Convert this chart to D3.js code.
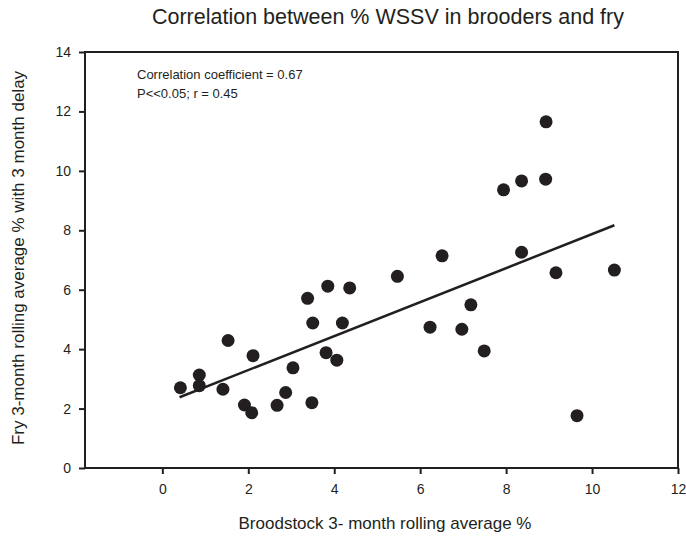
<!DOCTYPE html>
<html>
<head>
<meta charset="utf-8">
<script src="https://cdn.jsdelivr.net/npm/d3@7"></script>
<style>
  body { margin: 0; background: #fff; }
  svg text { font-family: "Liberation Sans", Arial, sans-serif; fill: #231f20; }
</style>
</head>
<body>
<div id="chart"></div>
<script>
// Data
const broodstock = [0.42, 0.86, 0.86, 1.41, 1.53, 1.91, 2.08, 2.11, 2.67, 2.87, 3.04,
    3.38, 3.48, 3.50, 3.85, 3.81, 4.06, 4.19, 4.36, 5.47, 6.51, 8.93, 8.92, 8.36,
    7.94, 8.36, 9.16, 10.52, 7.18, 6.23, 6.97, 7.49, 9.65];
const fry = [2.70, 3.13, 2.77, 2.65, 4.29, 2.12, 1.86, 3.78, 2.11, 2.54, 3.37,
    5.71, 2.20, 4.88, 6.12, 3.88, 3.63, 4.88, 6.06, 6.45, 7.14, 11.65, 9.72, 9.66,
    9.36, 7.26, 6.57, 6.66, 5.49, 4.74, 4.67, 3.94, 1.76];
// regression line endpoints
const fitX = [0.40, 10.52];
const fitY = [2.38, 8.17];
const xTicks = [0, 2, 4, 6, 8, 10, 12];
const yTicks = [0, 2, 4, 6, 8, 10, 12, 14];
const notes = ["Correlation coefficient = 0.67", "P<<0.05; r = 0.45"];

const width = 686, height = 539;
const margin = {left: 85, right: 8, top: 52, bottom: 71};

const svg = d3.select("#chart").append("svg")
    .attr("width", width)
    .attr("height", height);

const x = d3.scaleLinear().domain([-1.8, 12]).range([margin.left, width - margin.right]);
const y = d3.scaleLinear().domain([0, 14]).range([height - margin.bottom, margin.top]);

// frame
svg.append("rect")
    .attr("x", x(-1.8)).attr("y", y(14))
    .attr("width", x(12) - x(-1.8)).attr("height", y(0) - y(14))
    .attr("fill", "none").attr("stroke", "#231f20").attr("stroke-width", 2);

// axes
const xAxis = svg.append("g")
    .attr("transform", `translate(0,${y(0)})`)
    .call(d3.axisBottom(x).tickValues(xTicks).tickSize(6).tickPadding(10));
const yAxis = svg.append("g")
    .attr("transform", `translate(${x(-1.8)},0)`)
    .call(d3.axisLeft(y).tickValues(yTicks).tickSize(6).tickPadding(8));

[xAxis, yAxis].forEach(a => {
    a.select(".domain").remove();
    a.selectAll(".tick line").attr("stroke", "#231f20").attr("stroke-width", 2);
    a.selectAll(".tick text").attr("font-size", 14).attr("fill", "#3a3a3a")
        .style("font-family", "'Liberation Sans', Arial, sans-serif");
});

// regression line
svg.append("line")
    .attr("x1", x(fitX[0])).attr("y1", y(fitY[0]))
    .attr("x2", x(fitX[1])).attr("y2", y(fitY[1]))
    .attr("stroke", "#231f20").attr("stroke-width", 2.5);

// points
svg.append("g").selectAll("circle")
    .data(broodstock.map((b, i) => [b, fry[i]]))
    .enter().append("circle")
    .attr("cx", d => x(d[0]))
    .attr("cy", d => y(d[1]))
    .attr("r", 6.5)
    .attr("fill", "#231f20");

// annotation
svg.append("g").selectAll("text")
    .data(notes)
    .enter().append("text")
    .attr("x", 137)
    .attr("y", (d, i) => 79 + i * 19)
    .attr("font-size", 13)
    .text(d => d);

// title
svg.append("text")
    .attr("x", 388).attr("y", 24)
    .attr("text-anchor", "middle")
    .attr("font-size", 21.5)
    .text("Correlation between % WSSV in brooders and fry");

// axis titles
svg.append("text")
    .attr("x", 385).attr("y", 529)
    .attr("text-anchor", "middle")
    .attr("font-size", 17)
    .text("Broodstock 3- month rolling average %");

svg.append("text")
    .attr("transform", "translate(24,258) rotate(-90)")
    .attr("text-anchor", "middle")
    .attr("font-size", 17)
    .text("Fry 3-month rolling average % with 3 month delay");
</script>
</body>
</html>
